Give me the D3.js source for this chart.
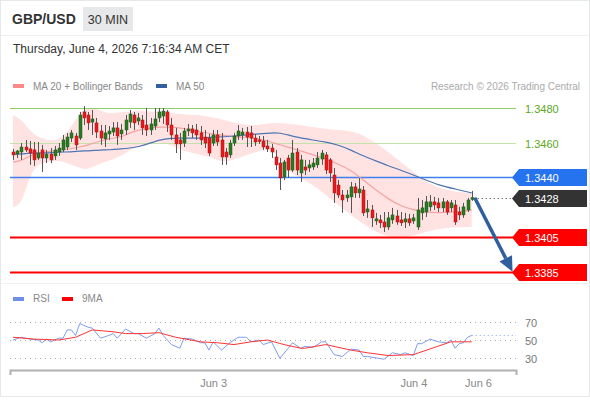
<!DOCTYPE html>
<meta charset="utf-8">
<script src="https://d3js.org/d3.v7.min.js"></script>
<style>
  body { margin: 0; background: #fff; }
  text { font-family: "Liberation Sans", Arial, sans-serif; }
</style>
<div id="chart"></div>
<script>

// 30 min candles, Jun 2 00:00 -> Jun 4 07:00
var opens = [
1.34546,1.34534,1.34546,1.34575,1.34564,1.34558,1.34511,1.34558,1.34511,1.34534,
1.34523,1.34546,1.34558,1.34575,1.34627,1.34639,1.34627,1.34779,1.34761,1.34720,
1.34715,1.34668,1.34622,1.34651,1.34662,1.34686,1.34651,1.34674,1.34720,1.34761,
1.34726,1.34732,1.34703,1.34674,1.34697,1.34744,1.34755,1.34779,1.34703,1.34645,
1.34616,1.34598,1.34668,1.34680,1.34674,1.34657,1.34633,1.34627,1.34598,1.34645,
1.34616,1.34546,1.34529,1.34598,1.34639,1.34645,1.34662,1.34657,1.34627,1.34616,
1.34610,1.34581,1.34569,1.34517,1.34482,1.34401,1.34511,1.34441,1.34546,1.34424,
1.34459,1.34453,1.34459,1.34471,1.34505,1.34529,1.34500,1.34412,1.34354,1.34296,
1.34279,1.34285,1.34343,1.34308,1.34325,1.34197,1.34209,1.34145,1.34151,1.34139,
1.34110,1.34151,1.34174,1.34151,1.34139,1.34157,1.34145,1.34110,1.34192,1.34197,
1.34227,1.34256,1.34250,1.34221,1.34256,1.34221,1.34238,1.34197,1.34180,1.34209,
1.34270]
var closes = [
1.34529,1.34552,1.34575,1.34558,1.34540,1.34500,1.34540,1.34511,1.34534,1.34500,
1.34558,1.34569,1.34616,1.34633,1.34657,1.34587,1.34761,1.34744,1.34715,1.34738,
1.34662,1.34627,1.34657,1.34668,1.34686,1.34639,1.34674,1.34732,1.34767,1.34715,
1.34744,1.34686,1.34674,1.34709,1.34738,1.34779,1.34784,1.34703,1.34645,1.34593,
1.34593,1.34668,1.34680,1.34657,1.34645,1.34616,1.34598,1.34540,1.34645,1.34604,
1.34517,1.34517,1.34598,1.34639,1.34668,1.34662,1.34633,1.34627,1.34604,1.34610,
1.34575,1.34564,1.34546,1.34471,1.34395,1.34488,1.34441,1.34540,1.34441,1.34500,
1.34441,1.34471,1.34482,1.34511,1.34540,1.34441,1.34424,1.34308,1.34296,1.34267,
1.34296,1.34343,1.34308,1.34331,1.34192,1.34215,1.34163,1.34157,1.34134,1.34110,
1.34163,1.34180,1.34139,1.34134,1.34157,1.34134,1.34163,1.34209,1.34221,1.34256,
1.34256,1.34238,1.34221,1.34256,1.34197,1.34250,1.34139,1.34180,1.34227,1.34267,
1.34280]
var highs = [
1.34564,1.34558,1.34598,1.34616,1.34610,1.34604,1.34604,1.34587,1.34558,1.34569,
1.34581,1.34598,1.34645,1.34657,1.34674,1.34657,1.34779,1.34813,1.34779,1.34790,
1.34744,1.34703,1.34703,1.34697,1.34720,1.34720,1.34709,1.34761,1.34790,1.34779,
1.34773,1.34761,1.34802,1.34744,1.34802,1.34802,1.34802,1.34790,1.34744,1.34686,
1.34657,1.34686,1.34709,1.34703,1.34709,1.34697,1.34674,1.34651,1.34674,1.34674,
1.34657,1.34569,1.34616,1.34657,1.34703,1.34686,1.34691,1.34697,1.34651,1.34639,
1.34639,1.34616,1.34593,1.34558,1.34511,1.34500,1.34529,1.34616,1.34569,1.34529,
1.34500,1.34500,1.34511,1.34546,1.34558,1.34546,1.34511,1.34453,1.34383,1.34325,
1.34325,1.34372,1.34366,1.34395,1.34348,1.34267,1.34238,1.34192,1.34180,1.34197,
1.34197,1.34221,1.34209,1.34197,1.34192,1.34186,1.34186,1.34279,1.34267,1.34290,
1.34296,1.34285,1.34279,1.34279,1.34267,1.34267,1.34267,1.34227,1.34250,1.34279,
1.34320]
var lows = [
1.34500,1.34511,1.34500,1.34546,1.34471,1.34465,1.34500,1.34430,1.34482,1.34482,
1.34500,1.34523,1.34546,1.34558,1.34604,1.34558,1.34616,1.34703,1.34674,1.34645,
1.34627,1.34587,1.34575,1.34616,1.34639,1.34587,1.34616,1.34645,1.34686,1.34674,
1.34703,1.34645,1.34639,1.34645,1.34674,1.34720,1.34709,1.34662,1.34616,1.34540,
1.34500,1.34575,1.34639,1.34627,1.34616,1.34587,1.34569,1.34523,1.34581,1.34581,
1.34471,1.34471,1.34511,1.34581,1.34616,1.34616,1.34575,1.34575,1.34581,1.34593,
1.34558,1.34546,1.34511,1.34441,1.34325,1.34383,1.34395,1.34430,1.34412,1.34372,
1.34412,1.34430,1.34441,1.34453,1.34471,1.34418,1.34372,1.34250,1.34279,1.34192,
1.34256,1.34192,1.34279,1.34279,1.34174,1.34163,1.34110,1.34122,1.34104,1.34081,
1.34093,1.34128,1.34122,1.34116,1.34104,1.34116,1.34128,1.34093,1.34151,1.34168,
1.34203,1.34209,1.34197,1.34197,1.34180,1.34197,1.34122,1.34151,1.34163,1.34197,
1.34262]

// indicators read at these candle indices
var indIdx = [0,2,4,6,8,11,14,16,18,21,23,26,28,30,33,35,38,40,43,45,48,50,53,56,59,62,64,66,69,72,75,78,81,84,87,90,93,96,99,102,106,110]
var bbUpper = [1.34761,1.34738,1.34668,1.34633,1.34616,1.34610,1.34691,1.34773,1.34808,1.34790,1.34767,1.34779,1.34779,1.34790,1.34779,1.34779,1.34773,1.34767,1.34761,1.34761,1.34744,1.34738,1.34715,1.34703,1.34703,1.34715,1.34715,1.34709,1.34703,1.34691,1.34680,1.34674,1.34668,1.34645,1.34598,1.34546,1.34488,1.34430,1.34372,1.34337,1.34314,1.34308]
var bbLower = [1.34226,1.34238,1.34412,1.34476,1.34488,1.34500,1.34471,1.34453,1.34441,1.34482,1.34494,1.34523,1.34558,1.34575,1.34598,1.34604,1.34587,1.34558,1.34540,1.34529,1.34511,1.34488,1.34500,1.34529,1.34552,1.34569,1.34500,1.34430,1.34395,1.34354,1.34296,1.34238,1.34180,1.34127,1.34081,1.34052,1.34046,1.34058,1.34081,1.34099,1.34110,1.34110]
var ma20 = [1.34488,1.34494,1.34523,1.34540,1.34546,1.34558,1.34564,1.34575,1.34587,1.34610,1.34622,1.34633,1.34657,1.34674,1.34686,1.34691,1.34691,1.34686,1.34674,1.34662,1.34651,1.34645,1.34633,1.34633,1.34622,1.34604,1.34587,1.34575,1.34552,1.34529,1.34505,1.34476,1.34441,1.34383,1.34325,1.34273,1.34232,1.34209,1.34197,1.34192,1.34197,1.34209]
var ma50 = [1.34534,1.34534,1.34540,1.34540,1.34540,1.34546,1.34546,1.34552,1.34552,1.34558,1.34558,1.34564,1.34569,1.34575,1.34598,1.34616,1.34627,1.34627,1.34627,1.34627,1.34633,1.34633,1.34639,1.34645,1.34651,1.34657,1.34657,1.34645,1.34627,1.34616,1.34604,1.34587,1.34558,1.34523,1.34494,1.34465,1.34441,1.34412,1.34383,1.34354,1.34331,1.34308]

// RSI pane
var rsiIdx = [0,2,4,6,7,8,9,11,12,13,14,15,16,18,19,21,23,24,25,26,27,29,30,32,34,35,36,38,40,41,43,45,46,47,48,50,52,54,56,57,59,60,62,64,66,67,69,70,72,74,75,77,79,81,83,84,85,89,91,93,94,96,97,98,100,102,104,105,106,107,108,109,110]
var rsiVal = [50,53,51,50,47,51,48,52,52,61,61,55,68,64,63,52,55,57,52,57,62,57,57,52,57,63,55,45,41,52,51,47,47,39,48,39,47,53,53,48,50,45,48,30,41,47,41,43,42,48,48,34,32,40,39,32,32,29,36,34,36,33,46,46,51,48,47,50,41,46,47,53,55]
var rsiMaIdx = [0,5,11,15,19,24,27,31,35,39,45,49,53,57,61,65,69,70,75,81,85,90,96,105,110]
var rsiMaVal = [53,51,50,53,61,59,57,57,58,53,48,47,45,48,50,45,41,41,45,39,36,33,34,48,48]
var rsiLevels = [70, 50, 30]

// levels on the right
var levels = [1.3480, 1.3460, 1.3440, 1.3428, 1.3405, 1.3385]
var lastIdx = 110
var lastPrice = 1.3428
var targetIdx = 119.8
var targetPrice = 1.3385

var dayTicks = [48, 96, 111.5]
var dayLabels = ["Jun 3", "Jun 4", "Jun 6"]

var width = 590, height = 400

var svg = d3.select("#chart").append("svg")
  .attr("width", width)
  .attr("height", height)

// frame
svg.append("rect")
  .attr("x", 0.5).attr("y", 0.5)
  .attr("width", width - 1).attr("height", height - 4)
  .attr("fill", "#fff").attr("stroke", "#e6e9ec")
svg.append("line")
  .attr("x1", 1).attr("x2", width - 1).attr("y1", 35.5).attr("y2", 35.5)
  .attr("stroke", "#eef0f2")
svg.append("line")
  .attr("x1", 1).attr("x2", width - 1).attr("y1", 283.5).attr("y2", 283.5)
  .attr("stroke", "#f0f2f4")

// header
svg.append("text").attr("x", 12).attr("y", 24)
  .text("GBP/USD").style("font-weight", "bold").style("font-size", "14px").attr("fill", "#333")
svg.append("rect").attr("x", 83).attr("y", 7).attr("width", 50).attr("height", 24).attr("fill", "#e7e8e9")
svg.append("text").attr("x", 108).attr("y", 24).attr("text-anchor", "middle")
  .text("30 MIN").style("font-size", "12.5px").attr("fill", "#333")
svg.append("text").attr("x", 13).attr("y", 53)
  .text("Thursday, June 4, 2026 7:16:34 AM CET").style("font-size", "12px").attr("fill", "#333")

// legend
svg.append("rect").attr("x", 13).attr("y", 84).attr("width", 11).attr("height", 4).attr("fill", "#f88")
svg.append("text").attr("x", 33).attr("y", 90).text("MA 20 + Bollinger Bands")
  .style("font-size", "10px").attr("fill", "#888")
svg.append("rect").attr("x", 156).attr("y", 84).attr("width", 11).attr("height", 4).attr("fill", "#35609f")
svg.append("text").attr("x", 176).attr("y", 90).text("MA 50")
  .style("font-size", "10px").attr("fill", "#888")
svg.append("text").attr("x", 580).attr("y", 90).attr("text-anchor", "end")
  .text("Research \u00a9 2026 Trading Central").style("font-size", "10px").attr("fill", "#aaa")

// scales
var x = d3.scaleLinear().domain([-0.72, 120.62]).range([10, 516])
var y = d3.scaleLinear().domain([1.3385, 1.3480]).range([271.7, 108.3])
var yr = d3.scaleLinear().domain([30, 70]).range([358.3, 321.7])

// bollinger band
var band = indIdx.map(function(d, i) { return {i: d, up: bbUpper[i], lo: bbLower[i], m20: ma20[i], m50: ma50[i]} })
svg.append("path")
  .datum(band)
  .attr("fill", "#ffe3e3")
  .attr("d", d3.area().curve(d3.curveBasis)
    .x(function(d) { return x(d.i) })
    .y0(function(d) { return y(d.lo) })
    .y1(function(d) { return y(d.up) }))

// level lines
var levelStyle = [
  {c: "#8fce64", w: 1, box: null, t: "#5aa81c"},
  {c: "#c3e2aa", w: 1, box: null, t: "#5aa81c"},
  {c: "#3f7fee", w: 1.3, box: "#2673f0", t: "#fff"},
  {c: "#333", w: 1, box: "#333", t: "#fff", dot: true},
  {c: "#f00", w: 2, box: "#f00", t: "#fff"},
  {c: "#f00", w: 2, box: "#f00", t: "#fff"}
]

levels.forEach(function(v, k) {
  var s = levelStyle[k]
  var yy = Math.round(y(v)) + 0.5
  if (s.dot) {
    svg.append("line")
      .attr("x1", x(lastIdx) + 2).attr("x2", 516).attr("y1", yy).attr("y2", yy)
      .attr("stroke", s.c).attr("stroke-dasharray", "1,3")
  } else {
    svg.append("line")
      .attr("x1", 10).attr("x2", 516).attr("y1", yy).attr("y2", yy)
      .attr("stroke", s.c).attr("stroke-width", s.w)
  }
  if (s.box) {
    svg.append("path")
      .attr("d", "M512," + yy + "L519," + (yy - 8.5) + "L587," + (yy - 8.5) + "L587," + (yy + 8.5) + "L519," + (yy + 8.5) + "Z")
      .attr("fill", s.box)
  }
  svg.append("text").attr("x", 525).attr("y", yy + 4)
    .text(v.toFixed(4)).style("font-size", "11px").attr("fill", s.t)
})

// MA lines
svg.append("path").datum(band)
  .attr("fill", "none").attr("stroke", "#f5a3a3").attr("stroke-width", 1.2)
  .attr("d", d3.line().curve(d3.curveBasis).x(function(d) { return x(d.i) }).y(function(d) { return y(d.m20) }))
svg.append("path").datum(band)
  .attr("fill", "none").attr("stroke", "#4d74b3").attr("stroke-width", 1.2)
  .attr("d", d3.line().curve(d3.curveBasis).x(function(d) { return x(d.i) }).y(function(d) { return y(d.m50) }))

// candles
var candles = closes.map(function(c, i) { return {i: i, o: opens[i], c: c, h: highs[i], l: lows[i]} })
var g = svg.append("g")
g.selectAll(".wick").data(candles).enter().append("line")
  .attr("x1", function(d) { return Math.round(x(d.i)) + 0.5 })
  .attr("x2", function(d) { return Math.round(x(d.i)) + 0.5 })
  .attr("y1", function(d) { return y(d.h) })
  .attr("y2", function(d) { return y(d.l) })
  .attr("stroke", "#555").attr("stroke-width", 1)
g.selectAll(".body").data(candles).enter().append("rect")
  .attr("x", function(d) { return Math.round(x(d.i)) - 1 })
  .attr("y", function(d) { return y(Math.max(d.o, d.c)) })
  .attr("width", 3)
  .attr("height", function(d) { return Math.max(1.5, Math.abs(y(d.o) - y(d.c))) })
  .attr("fill", function(d) { return d.c >= d.o ? "#2a7a22" : "#e8191c" })
  .attr("stroke", function(d) { return d.c >= d.o ? "#1f5a1a" : "#a81414" })
  .attr("stroke-width", 0.5)

// forecast arrow
var ax1 = x(lastIdx) + 3, ay1 = y(lastPrice)
var ax2 = x(targetIdx), ay2 = y(targetPrice)
var ang = Math.atan2(ay2 - ay1, ax2 - ax1)
var hl = 15, hw = 7
var bx = ax2 - hl * Math.cos(ang), by = ay2 - hl * Math.sin(ang)
svg.append("line")
  .attr("x1", ax1).attr("y1", ay1).attr("x2", bx).attr("y2", by)
  .attr("stroke", "#2f5f9e").attr("stroke-width", 3.5)
svg.append("path")
  .attr("d", "M" + ax2 + "," + ay2 +
    "L" + (bx + hw * Math.sin(ang)) + "," + (by - hw * Math.cos(ang)) +
    "L" + (bx - hw * Math.sin(ang)) + "," + (by + hw * Math.cos(ang)) + "Z")
  .attr("fill", "#2f5f9e")

// RSI pane
svg.append("rect").attr("x", 13).attr("y", 297).attr("width", 11).attr("height", 4).attr("fill", "#6f8fe8")
svg.append("text").attr("x", 33).attr("y", 302).text("RSI").style("font-size", "10px").attr("fill", "#888")
svg.append("rect").attr("x", 62).attr("y", 297).attr("width", 11).attr("height", 4).attr("fill", "#f00")
svg.append("text").attr("x", 82).attr("y", 302).text("9MA").style("font-size", "10px").attr("fill", "#888")

rsiLevels.forEach(function(v) {
  var yy = Math.round(yr(v)) + 0.5
  svg.append("line").attr("x1", 10).attr("x2", 516).attr("y1", yy).attr("y2", yy)
    .attr("stroke", "#aaa").attr("stroke-dasharray", "1,4")
  svg.append("text").attr("x", 525).attr("y", yy + 4).text(v)
    .style("font-size", "11px").attr("fill", "#777")
})

var rsiPts = rsiIdx.map(function(d, i) { return [x(d), yr(rsiVal[i])] })
svg.append("path").datum(rsiPts)
  .attr("fill", "none").attr("stroke", "#7f9ced").attr("stroke-width", 1)
  .attr("d", d3.line())
svg.append("line")
  .attr("x1", x(lastIdx)).attr("x2", 516)
  .attr("y1", yr(rsiVal[rsiVal.length - 1])).attr("y2", yr(rsiVal[rsiVal.length - 1]))
  .attr("stroke", "#7f9ced").attr("stroke-dasharray", "1,3")
var maPts = rsiMaIdx.map(function(d, i) { return [x(d), yr(rsiMaVal[i])] })
svg.append("path").datum(maPts)
  .attr("fill", "none").attr("stroke", "#f33").attr("stroke-width", 1)
  .attr("d", d3.line())

// time axis
var xAxis = d3.axisBottom(x)
  .tickValues(dayTicks)
  .tickFormat(function(d, i) { return dayLabels[i] })
  .tickSize(0)
  .tickSizeOuter(5)
  .tickPadding(9)
var ax = svg.append("g").attr("transform", "translate(0,370)").call(xAxis)
ax.select(".domain").attr("stroke", "#b0b0b0").attr("stroke-width", 2)
ax.selectAll("text").style("font-size", "11px").attr("fill", "#888")
  .style("font-family", "'Liberation Sans', Arial, sans-serif")

</script>
